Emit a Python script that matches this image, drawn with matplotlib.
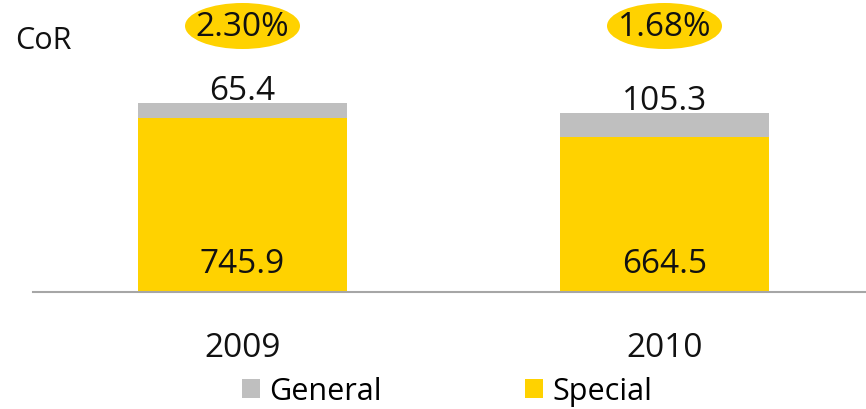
import matplotlib
matplotlib.use("Agg")
import matplotlib.pyplot as plt
import matplotlib.transforms as mtransforms
from matplotlib.patches import Ellipse, Patch

plt.rcParams["font.family"] = ["Open Sans", "DejaVu Sans"]

years = ["2009", "2010"]
special = [745.9, 664.5]
general = [65.4, 105.3]
cor_ratio = ["2.30%", "1.68%"]

YELLOW = "#FFD200"
GRAY = "#BFBFBF"
AXIS_COL = "#A6A6A6"

fig = plt.figure(figsize=(8.66, 4.10), dpi=100)
ax = fig.add_axes([0.0, 117 / 410, 1.0, 293 / 410])

x = [0, 1]
ax.bar(x, special, width=0.495, color=YELLOW, label="Special")
ax.bar(x, general, width=0.495, bottom=special, color=GRAY, label="General")

ax.set_xlim((0 - 242.5) / 422, (866 - 242.5) / 422)
ax.set_ylim(0, 1257)
for sp in ax.spines.values():
    sp.set_visible(False)
ax.set_xticks([])
ax.set_yticks([])
ax.axhline(0, xmin=33 / 866, xmax=1.0, color=AXIS_COL, linewidth=1.5, clip_on=False)

# value labels
for xi, s, g, yr in zip(x, special, general, years):
    ax.annotate(f"{g:.1f}", (xi, s + g), xytext=(0, 2.5), textcoords="offset points",
                ha="center", va="baseline", fontsize=24, color="#111111")
    ax.annotate(f"{s:.1f}", (xi, 0), xytext=(0, 14.5), textcoords="offset points",
                ha="center", va="baseline", fontsize=24, color="#111111")
    ax.annotate(yr, (xi, 0), xytext=(0, -46), textcoords="offset points",
                ha="center", va="baseline", fontsize=24, color="#111111",
                annotation_clip=False)

# CoR ratio bubbles
blend = mtransforms.blended_transform_factory(ax.transData, fig.transFigure)
for xi, r in zip(x, cor_ratio):
    e = Ellipse((xi, 1 - 27 / 410), 115 / 422, 46 / 410, transform=blend,
                facecolor=YELLOW, edgecolor="none", clip_on=False)
    ax.add_patch(e)
    ax.text(xi, 1 - 27 / 410, r, transform=blend, ha="center", va="center",
            fontsize=24, color="#111111")

fig.text(15 / 866, 1 - 41 / 410, "CoR", ha="left", va="center", fontsize=22, color="#111111")

handles = [Patch(facecolor=GRAY, edgecolor="none"), Patch(facecolor=YELLOW, edgecolor="none")]
fig.legend(handles, ["General", "Special"], loc="center", bbox_to_anchor=(447 / 866, 1 - 392 / 410),
           ncol=2, frameon=False, fontsize=22, handlelength=0.6, handleheight=0.6,
           handletextpad=0.3, columnspacing=4.66, borderpad=0, borderaxespad=0)

fig.savefig("out.png", dpi=100)
